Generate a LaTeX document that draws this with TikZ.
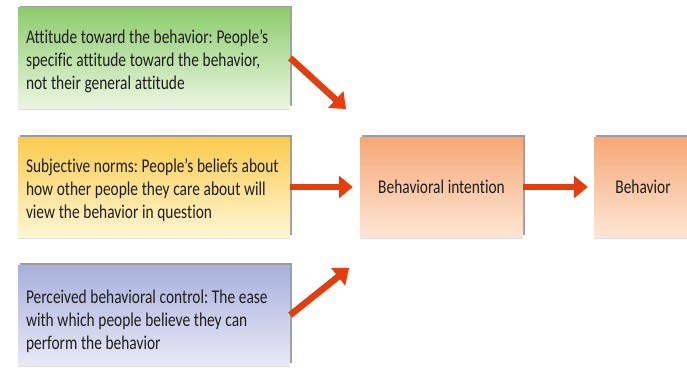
\documentclass[tikz,border=0pt]{standalone}
\usepackage{fontspec}
\setmainfont{Carlito}[FakeStretch=0.79, Ligatures={NoCommon}]
\frenchspacing
\usetikzlibrary{arrows.meta,shadows}
\newcommand\panelfont{\fontsize{19.5}{23}\selectfont}
\newcommand\panelspacing{\spaceskip=3.7pt plus 1pt minus 1pt\relax}
\newcommand\firstline[1]{\rule{0pt}{#1}}
\definecolor{arrowred}{RGB}{228,62,14}
\definecolor{txt}{RGB}{30,30,30}
\definecolor{greenTop}{RGB}{140,204,108}
\definecolor{greenBot}{RGB}{236,246,226}
\definecolor{yellowTop}{RGB}{250,204,78}
\definecolor{yellowBot}{RGB}{255,246,212}
\definecolor{blueTop}{RGB}{168,176,220}
\definecolor{blueBot}{RGB}{231,233,246}
\definecolor{orangeTop}{RGB}{246,168,118}
\definecolor{orangeBot}{RGB}{253,230,213}
\tikzset{
  panel/.style={rectangle, inner sep=0pt, text=txt, font=\panelfont,
    execute at begin node=\panelspacing,
    drop shadow={shadow xshift=0pt,shadow yshift=-1.5pt,opacity=.12,fill=black},
    drop shadow={shadow xshift=1.8pt,shadow yshift=1.8pt,opacity=.55,fill=black!70}},
  factor/.style={panel, minimum width=272pt, minimum height=100pt,
    text width=256pt, align=left},
  stage/.style={panel, minimum height=100pt, align=center,
    top color=orangeTop, bottom color=orangeBot},
  link/.style={draw=arrowred, line width=6.5pt,
    -{Triangle[length=14pt,width=22pt]}}
}
\begin{document}
\begin{tikzpicture}[x=1pt,y=-1pt]
\useasboundingbox (0,0) rectangle (687,369);
\clip (0,0) rectangle (687,369);

\node[factor, top color=greenTop, bottom color=greenBot] (att) at (154,58)
  {\firstline{21pt}Attitude toward the behavior: People’s\\specific attitude toward the behavior,\\not their general attitude};
\node[factor, top color=yellowTop, bottom color=yellowBot] (norm) at (154,187)
  {\firstline{21pt}Subjective norms: People’s beliefs about\\how other people they care about will\\view the behavior in question};
\node[factor, top color=blueTop, bottom color=blueBot] (ctrl) at (154,315)
  {\firstline{27pt}Perceived behavioral control: The ease\\with which people believe they can\\perform the behavior};

\node[stage, minimum width=163pt] (intent) at (441.5,187) {Behavioral intention};
\node[stage, minimum width=98pt] (beh) at (643,187) {Behavior};

\coordinate (tipA) at (346,109);
\coordinate (tipC) at (349,268);

\draw[link] (att.east) -- (tipA);
\draw[link, shorten >=7pt] (norm.east) -- (intent.west);
\draw[link] (ctrl.east) -- (tipC);
\draw[link, shorten >=6pt] (intent.east) -- (beh.west);
\end{tikzpicture}
\end{document}
